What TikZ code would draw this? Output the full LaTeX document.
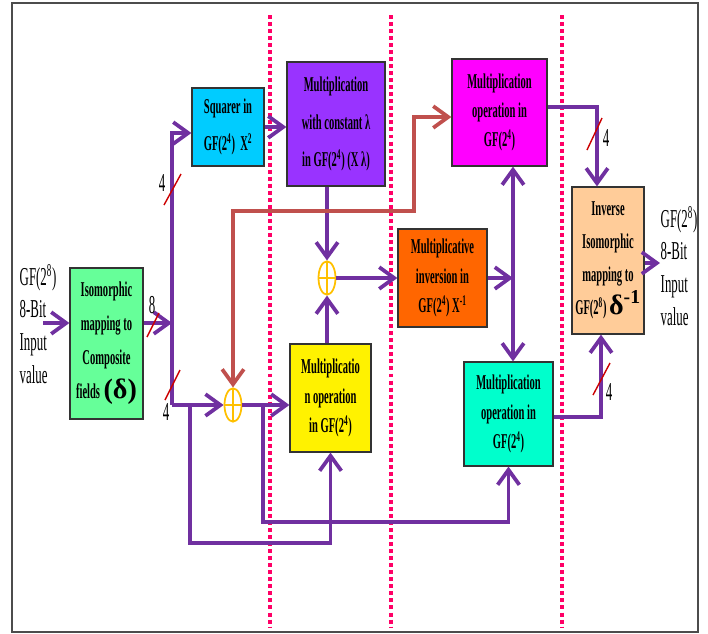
\documentclass[tikz,border=0pt]{standalone}
\usepackage{fontspec}
\setmainfont{Liberation Serif}
\newfontfamily\condfont[FakeStretch=0.5]{Liberation Serif}
\usetikzlibrary{arrows.meta,shapes.geometric}

\definecolor{buscol}{HTML}{7030A0}
\definecolor{feedcol}{HTML}{C0504D}
\definecolor{xorcol}{HTML}{FFC000}
\definecolor{dotcol}{HTML}{FF0066}
\definecolor{tickcol}{HTML}{CC0000}

\begin{document}
\begin{tikzpicture}[
    x=0.03cm, y=-0.03cm,
    >={Straight Barb[length=4.5mm,width=6.5mm]},
    block/.style={
        rectangle,
        draw=black!80,
        line width=1pt,
        inner sep=1pt,
        font=\condfont\bfseries\fontsize{18}{25}\selectfont,
        align=center
    },
    boxsize/.style 2 args={
        minimum width=#1*0.03cm,
        minimum height=#2*0.03cm
    },
    bus/.style={
        line width=3.2pt,
        buscol
    },
    feed/.style={
        line width=3.2pt,
        feedcol
    },
    xorgate/.style={
        ellipse,
        draw=xorcol,
        line width=1.5pt,
        fill=white,
        inner sep=0pt,
        minimum width=0.51cm,
        minimum height=1cm,
        path picture={
            \draw[xorcol, line width=1.5pt]
                (path picture bounding box.north) -- (path picture bounding box.south)
                (path picture bounding box.west) -- (path picture bounding box.east);
        }
    },
    sidetext/.style={
        font=\condfont\fontsize{22}{28}\selectfont,
        align=left
    },
    buswidth/.style={
        font=\condfont\fontsize{22}{24}\selectfont,
        inner sep=0pt
    },
    tick/.style={
        tickcol,
        line width=1.2pt
    },
    divider/.style={
        dotcol,
        line width=2.6pt,
        dash pattern=on 3.4pt off 2.6pt
    },
    frame/.style={
        draw=black!70,
        line width=1.5pt
    }
]

\useasboundingbox (0,0) rectangle (708,633);
\draw[frame] (12,3) rectangle (698,632);

\foreach \xd in {270,391,562}
    \draw[divider] (\xd,15) -- (\xd,628);

\node[block, boxsize={73}{151}, fill={rgb,255:red,102;green,255;blue,153}, font=\condfont\bfseries\fontsize{18}{29}\selectfont] (iso) at (106.5,343.5)
    {Isomorphic\\mapping to\\Composite\\fields\,{\rmfamily\fontsize{24}{25}\selectfont(δ)}};
\node[block, boxsize={72}{78}, fill={rgb,255:red,0;green,204;blue,255}, font=\condfont\bfseries\fontsize{18}{32}\selectfont] (sq) at (228,127)
    {Squarer in\\GF(2\textsuperscript{4})\ \ X\textsuperscript{2}};
\node[block, boxsize={98}{124}, fill={rgb,255:red,153;green,51;blue,255}, font=\condfont\bfseries\fontsize{18}{32}\selectfont] (mulc) at (336,124)
    {Multiplication\\with constant λ\\in GF(2\textsuperscript{4}) (X λ)};
\node[block, boxsize={95}{107}, fill={rgb,255:red,255;green,0;blue,255}] (mulm) at (499.5,112.5)
    {Multiplication\\operation in\\GF(2\textsuperscript{4})};
\node[block, boxsize={89}{98}, fill={rgb,255:red,255;green,102;blue,0}] (inv) at (442.5,278)
    {Multiplicative\\inversion in\\GF(2\textsuperscript{4}) X\textsuperscript{-1}};
\node[block, boxsize={72}{147}, fill={rgb,255:red,255;green,204;blue,153}, font=\condfont\bfseries\fontsize{18}{28}\selectfont] (invmap) at (608,260.5)
    {Inverse\\Isomorphic\\mapping to\\GF(2\textsuperscript{8}) {\rmfamily\fontsize{24}{25}\selectfont δ\textsuperscript{-1}}};
\node[block, boxsize={81}{108}, fill=yellow] (muly) at (330.5,398)
    {Multiplicatio\\n operation\\in GF(2\textsuperscript{4})};
\node[block, boxsize={89}{104}, fill={rgb,255:red,0;green,255;blue,204}] (mult) at (508.5,414)
    {Multiplication\\operation in\\GF(2\textsuperscript{4})};

\node[xorgate] (xa) at (327,278) {};
\node[xorgate] (xb) at (233,405) {};

\node[sidetext] (inlabel) at (38,324) {GF(2\textsuperscript{8})\\8-Bit\\Input\\value};
\node[sidetext] (outlabel) at (679,266) {GF(2\textsuperscript{8})\\8-Bit\\Input\\value};

\coordinate (inL) at (43,323);
\coordinate (j1) at (172,323);
\coordinate (jtop) at (172,133);
\coordinate (jbot) at (172,405);
\coordinate (b1) at (190,405);
\coordinate (b1d) at (190,543);
\coordinate (b2) at (263,405);
\coordinate (b2d) at (263,522);
\coordinate (jm) at (513,278);
\coordinate (fa) at (414,211);
\coordinate (fb) at (414,117);
\coordinate (mo) at (597,107);
\coordinate (tq) at (601,417);
\coordinate (outR) at (660,263);

\draw[bus,->] (inL) -- (inL -| iso.west);
\draw[bus,->] (j1 -| iso.east) -- (j1);
\draw[bus,->] (jbot) -- (jtop) -- (jtop -| sq.west);
\draw[bus,->] (jbot) -- (xb);
\draw[bus,->] (xb) -- (xb -| muly.west);
\draw[bus,->] (b1) -- (b1d) -| (muly.south);
\draw[bus,->] (b2) -- (b2d) -| (mult.south);
\draw[bus,->] (sq.east) -- (sq.east -| mulc.west);
\draw[bus,->] (mulc.south -| xa) -- (xa);
\draw[bus,->] (muly.north -| xa) -- (xa);
\draw[bus,->] (xa) -- (xa -| inv.west);
\draw[bus,->] (inv.east) -- (jm);
\draw[bus,->] (jm) -- (jm |- mulm.south);
\draw[bus,->] (jm) -- (jm |- mult.north);
\draw[bus,->] (mo -| mulm.east) -- (mo) -- (mo |- invmap.north);
\draw[bus,->] (tq -| mult.east) -- (tq) -- (tq |- invmap.south);
\draw[bus,->] (outR -| invmap.east) -- (outR);
\draw[feed,<->] (xb) |- (fa) -- (fb) -- (fb -| mulm.west);

\draw[tick] (147,337) -- (159,313);
\node[buswidth] (w8) at (152,305) {8};
\draw[tick] (164,205) -- (181,174);
\node[buswidth] (w4a) at (162,183) {4};
\draw[tick] (165,400) -- (180,370);
\node[buswidth] (w4b) at (166,412) {4};
\draw[tick] (587,150) -- (602,118);
\node[buswidth] (w4c) at (606,138) {4};
\draw[tick] (593,395) -- (610,363);
\node[buswidth] (w4d) at (609,392) {4};

\end{tikzpicture}
\end{document}
